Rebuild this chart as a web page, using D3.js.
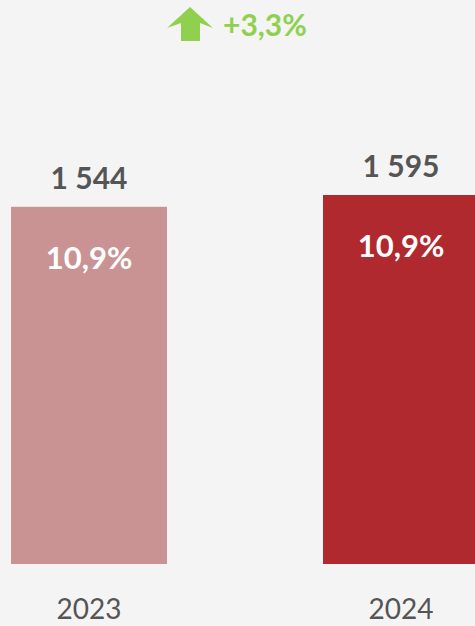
<!DOCTYPE html>
<html>
<head>
<meta charset="utf-8">
<script src="https://cdn.jsdelivr.net/npm/d3@7"></script>
<style>
  body { margin: 0; background: #f4f4f4; }
  svg { display: block; font-family: Lato, "Open Sans", sans-serif; }
</style>
</head>
<body>
<svg id="chart" width="475" height="626"></svg>
<script>
// chart data
var years = ["2023", "2024"];
var totals = [1544, 1595];
var shares = ["10,9%", "10,9%"];
var barColors = ["#c99393", "#b0292f"];
var growthLabel = "+3,3%";

var svg = d3.select("#chart"),
    baseline = 564;

// band scale puts the second bar partly off the right edge, like the original
var xScale = d3.scaleBand()
    .domain(years)
    .range([-67, 557])
    .paddingInner(0.5)
    .paddingOuter(0.25);

var yScale = d3.scaleLinear()
    .domain([0, 1595])
    .range([baseline, 195]);

var rows = years.map(function(y, i) {
    return { year: y, total: totals[i], share: shares[i], color: barColors[i] };
});

var bar = svg.selectAll(".bar")
    .data(rows)
    .enter().append("g")
    .attr("class", "bar");

bar.append("rect")
    .attr("x", function(d) { return xScale(d.year); })
    .attr("y", function(d) { return yScale(d.total); })
    .attr("width", xScale.bandwidth())
    .attr("height", function(d) { return baseline - yScale(d.total); })
    .attr("fill", function(d) { return d.color; });

// value on top of each bar
bar.append("text")
    .attr("x", function(d) { return xScale(d.year) + xScale.bandwidth() / 2; })
    .attr("y", function(d) { return yScale(d.total) - 18; })
    .attr("text-anchor", "middle")
    .attr("fill", "#555555")
    .style("font-size", "30px")
    .style("font-weight", "bold")
    .text(function(d) { return d3.format(",")(d.total).replace(",", " "); });

// share inside the bar
bar.append("text")
    .attr("x", function(d) { return xScale(d.year) + xScale.bandwidth() / 2; })
    .attr("y", function(d) { return yScale(d.total) + 62; })
    .attr("text-anchor", "middle")
    .attr("fill", "#ffffff")
    .style("font-size", "31px")
    .style("font-weight", "bold")
    .text(function(d) { return d.share; });

// year labels under the bars
bar.append("text")
    .attr("x", function(d) { return xScale(d.year) + xScale.bandwidth() / 2; })
    .attr("y", 619)
    .attr("text-anchor", "middle")
    .attr("fill", "#555555")
    .style("font-size", "28px")
    .text(function(d) { return d.year; });

// growth arrow and label at the top
var growth = svg.append("g").attr("transform", "translate(190,0)");
growth.append("path")
    .attr("d", "M0,7 L23,28 L10,23 L10,41 L-9,41 L-9,23 L-23,28 Z")
    .attr("fill", "#8fd14f");
growth.append("text")
    .attr("x", 33)
    .attr("y", 36)
    .attr("fill", "#8fd14f")
    .style("font-size", "30px")
    .style("font-weight", "bold")
    .text(growthLabel);
</script>
</body>
</html>
